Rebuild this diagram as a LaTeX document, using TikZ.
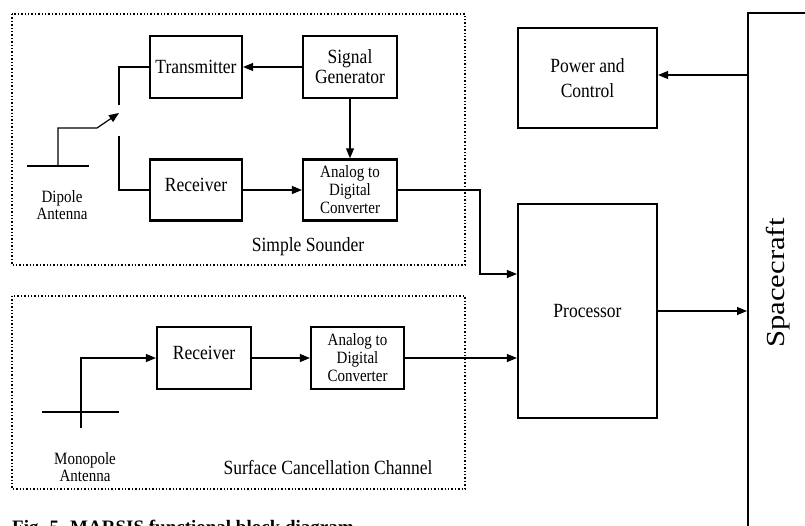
\documentclass[tikz,border=0pt]{standalone}
\usepackage{fontspec}
\setmainfont{Liberation Serif}
\usetikzlibrary{arrows.meta}
\begin{document}
\begin{tikzpicture}[x=1pt,y=-1pt,
  stretch/.style={yscale=1.15},
  blk/.style={draw,line width=2.2pt,inner sep=0pt,stretch,font=\fontsize{17.5}{17.5}\selectfont,align=center},
  adcbox/.style={blk,font=\fontsize{15}{15.6}\selectfont},
  conn/.style={line width=1.2pt},
  arr/.style={conn,-{Triangle[length=10pt,width=8pt]}},
  grp/.style={draw,line width=1.4pt,dotted},
  small/.style={stretch,font=\fontsize{15}{14.8}\selectfont,align=center},
  lbl/.style={stretch,font=\fontsize{17.5}{17.5}\selectfont,align=center}]
\useasboundingbox (0,0) rectangle (805,525);
\clip (0,0) rectangle (805,525);
% group boxes
\draw[grp] (12,14) rectangle (465,265);
\draw[grp] (12,296) rectangle (465,489);
% blocks
\node[blk,minimum width=92pt,minimum height=54pt] (tx) at (196,67) {Transmitter};
\node[blk,minimum width=94pt,minimum height=54pt] (sg) at (350,67) {Signal\\Generator};
\node[blk,minimum width=92pt,minimum height=53pt,text depth=9pt] (rx) at (196,190) {Receiver};
\node[adcbox,minimum width=94pt,minimum height=53pt] (adc) at (350,190) {Analog to\\Digital\\Converter};
\node[blk,minimum width=94pt,minimum height=54pt,text depth=9pt] (rx2) at (204,358) {Receiver};
\node[adcbox,minimum width=93pt,minimum height=54pt] (adc2) at (357.5,358) {Analog to\\Digital\\Converter};
\node[blk,minimum width=139pt,minimum height=87pt] (pw) at (587.5,78) {Power and\\[4pt]Control};
\node[blk,minimum width=139pt,minimum height=186pt] (proc) at (587.5,311) {Processor};
\node[draw,line width=2pt,inner sep=0pt,minimum width=72pt,minimum height=527pt] (sc) at (784,276.5) {};
\node[rotate=90,font=\fontsize{26}{28}\selectfont] (sctext) at (778,283) {\scalebox{1.18}[1]{Spacecraft}};
% labels
\node[small] (dipl) at (62,205) {Dipole\\Antenna};
\node[lbl] (ssl) at (308,247) {Simple Sounder};
\node[small] (monl) at (85,467) {Monopole\\Antenna};
\node[lbl] (scl) at (328,468) {Surface Cancellation Channel};
\node[anchor=base west,inner sep=0pt,font=\fontsize{19}{22}\selectfont\bfseries] (cap) at (12,533) {Fig. 5. MARSIS functional block diagram};
% connectors in simple sounder
\draw[arr] (sg.west) -- (tx.east);
\draw[arr] (sg.south) -- (adc.north);
\draw[arr] (rx.east) -- (adc.west);
\coordinate (swT) at (119,105);
\coordinate (swB) at (119,136);
\draw[conn] (tx.west) -| (swT);
\draw[conn] (swB) |- (rx.west);
% dipole antenna and switch
\coordinate (dL) at (27,166);
\coordinate (dR) at (89,166);
\coordinate (dF) at (58,166);
\coordinate (dK) at (97,128);
\coordinate (swTip) at (119,113);
\draw[line width=2.2pt] (dL) -- (dR);
\draw[arr] (dF) |- (dK) -- (swTip);
% to processor
\coordinate (j1) at (480,274);
\draw[arr] (adc.east) -| (j1) -- (j1 -| proc.west);
\draw[arr] (adc2.east) -- (adc2.east -| proc.west);
\draw[arr] (proc.east) -- (proc.east -| sc.west);
\draw[arr] (sc.west |- 0,75) -- (pw.east |- 0,75);
% monopole antenna
\coordinate (mL) at (42,412);
\coordinate (mR) at (119,412);
\coordinate (mB) at (81,428);
\draw[conn] (mL) -- (mR);
\draw[arr] (mB) |- (rx2.west);
\draw[arr] (rx2.east) -- (adc2.west);
\end{tikzpicture}
\end{document}
